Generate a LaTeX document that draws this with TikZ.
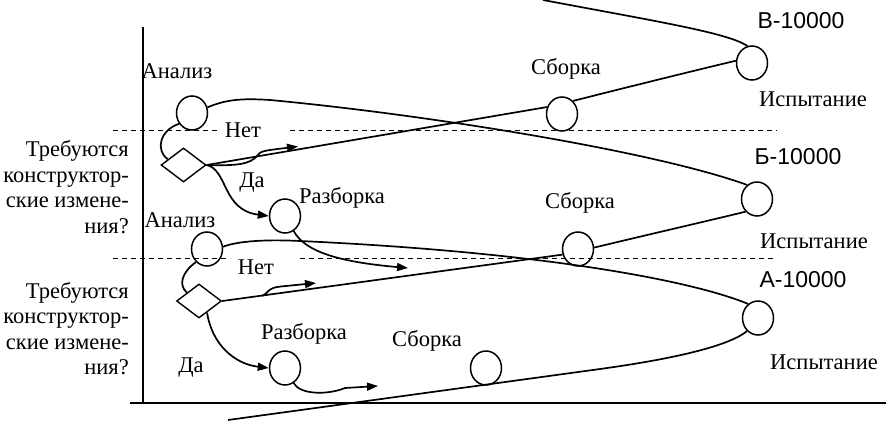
\documentclass[tikz,border=0pt]{standalone}
\usepackage{fontspec}
\setmainfont{Liberation Serif}
\newfontfamily\lsans{Liberation Sans}
\usetikzlibrary{shapes.geometric,arrows.meta,calc}
\begin{document}
\begin{tikzpicture}[x=1pt,y=-1pt,
 circ/.style={draw, ellipse, minimum width=31pt, minimum height=34pt, inner sep=0pt, line width=1.5pt},
 dia/.style={draw, diamond, minimum width=45pt, minimum height=34pt, inner sep=0pt, line width=1.4pt},
 lbl/.style={font=\fontsize{22.5}{26}\selectfont, inner sep=0pt},
 slbl/.style={font=\lsans\fontsize{23}{26}\selectfont, inner sep=0pt},
 qlbl/.style={font=\fontsize{22.5}{25.5}\selectfont, inner sep=0pt, align=right, anchor=east},
 curve/.style={line width=1.7pt},
 arr/.style={curve, -{Triangle[length=11pt,width=8pt]}},
 dline/.style={dash pattern=on 5pt off 4pt, line width=1pt},
 axis/.style={line width=2.3pt}]
\useasboundingbox (0,0) rectangle (886,423);

% coordinates
\coordinate (ytop) at (143,27);
\coordinate (ybot) at (143,403);
\coordinate (xl) at (130,403);
\coordinate (xr) at (886,403);
\coordinate (d1a) at (113,130);
\coordinate (d1b) at (217,130);
\coordinate (d1c) at (290,130);
\coordinate (d1d) at (777,130);
\coordinate (d2a) at (113,258);
\coordinate (d2b) at (230,258);
\coordinate (d2c) at (300,258);
\coordinate (d2d) at (777,258);
\coordinate (ctop) at (543,0);
\coordinate (nT) at (298,146.5);
\coordinate (nR1) at (408,268);
\coordinate (kB) at (270,100);
\coordinate (jA) at (262,296);
\coordinate (kA) at (281,286.5);
\coordinate (nA1) at (316,283);
\coordinate (kR2) at (345,388);
\coordinate (nR2) at (378,386);
\coordinate (kC) at (300,241);
\coordinate (bS) at (228,420);
\coordinate (kD) at (600,369);

% axes and dashed lines
\draw[axis] (ytop) -- (ybot);
\draw[axis] (xl) -- (xr);
\draw[dline] (d1a) -- (d1b);
\draw[dline] (d1c) -- (d1d);
\draw[dline] (d2a) -- (d2b);
\draw[dline] (d2c) -- (d2d);

% nodes
\node[circ] (cAn1) at (192,113) {};
\node[dia]  (cD1)  at (183.5,165) {};
\node[circ] (cRz1) at (285,216) {};
\node[circ] (cSb1) at (562,114) {};
\node[circ] (cIsV) at (752,63) {};
\node[circ] (cIsB) at (757,199) {};
\node[circ] (cAn2) at (207,249) {};
\node[dia]  (cD2)  at (199,301) {};
\node[circ] (cRz2) at (285,368) {};
\node[circ] (cSb2) at (578,249) {};
\node[circ] (cSb3) at (486,368) {};
\node[circ] (cIsA) at (758,318) {};

% labels
\node[lbl]  (lAn1) at (177,71) {Анализ};
\node[lbl]  (lSb1) at (566,69) {Сборка};
\node[slbl] (lV)   at (801,21) {В-10000};
\node[lbl]  (lIs1) at (813,99) {Испытание};
\node[lbl]  (lNet1) at (243,130) {Нет};
\node[lbl]  (lDa1) at (252,183) {Да};
\node[lbl]  (lRz1) at (342,198) {Разборка};
\node[slbl] (lB)   at (798,157) {Б-10000};
\node[lbl]  (lSb2) at (580,203) {Сборка};
\node[lbl]  (lAn2) at (180,220) {Анализ};
\node[lbl]  (lIs2) at (814,241) {Испытание};
\node[lbl]  (lNet2) at (256,267) {Нет};
\node[slbl] (lA)   at (803,280) {А-10000};
\node[lbl]  (lRz2) at (304,334) {Разборка};
\node[lbl]  (lSb3) at (427,341) {Сборка};
\node[lbl]  (lIs3) at (824,362) {Испытание};
\node[lbl]  (lDa2) at (191,368) {Да};
\node[qlbl] (lQ1) at (129,187) {Требуются\\конструктор-\\ские измене-\\ния?};
\node[qlbl] (lQ2) at (129,328.5) {Требуются\\конструктор-\\ские измене-\\ния?};

% upper part
\draw[curve] (ctop) .. controls (660,22) and (728,33) .. (cIsV.105);
\draw[curve] (cSb1.50) .. controls (640,84) and (705,68) .. (cIsV.172);
\draw[curve] (cD1.east) -- (cSb1.155);
\draw[arr] (cD1.east) .. controls (238,166) and (250,164) .. (257,156) .. controls (261,151) .. (nT);
\draw[arr] (cD1.east) .. controls (228,170) and (222,210) .. (cRz1.west);
\draw[arr] (cRz1.-60) .. controls (305,252) and (340,262) .. (nR1);
\draw[curve] (cAn1.220) .. controls (160,130) and (155,150) .. (cD1.160);
\draw[curve] (cIsB.125) .. controls (650,150) and (420,114) .. (kB) .. controls (240,98) and (225,100) .. (cAn1.20);

% lower part
\draw[curve] (cSb2.5) .. controls (655,233) and (720,218) .. (cIsB.228);
\draw[curve] (cD2.east) -- (cSb2.200);
\draw[arr] (jA) .. controls (268,294) and (267,287.5) .. (kA) -- (nA1);
\draw[arr] (cD2.-55) .. controls (212,345) and (235,364) .. (cRz2.west);
\draw[arr] (cRz2.-60) .. controls (300,395) and (328,395) .. (kR2) -- (nR2);
\draw[curve] (cIsA.125) .. controls (690,280) and (540,252) .. (kC) .. controls (260,239) and (235,242) .. (cAn2.8);
\draw[curve] (cAn2.230) .. controls (182,272) and (178,285) .. (cD2.145);
\draw[curve] (bS) -- (kD) .. controls (680,358) and (730,345) .. (cIsA.230);
\end{tikzpicture}
\end{document}
